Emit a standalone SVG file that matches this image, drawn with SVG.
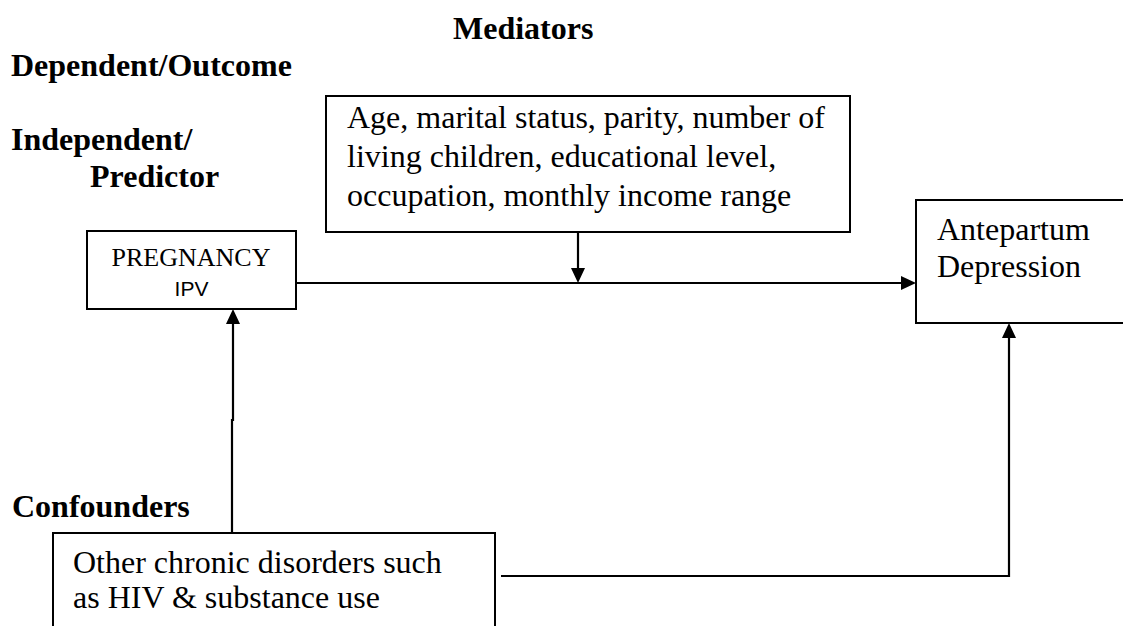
<svg xmlns="http://www.w3.org/2000/svg" width="1123" height="626" viewBox="0 0 1123 626">
<defs>
<style>
.lbl{font-family:"Liberation Serif","Times New Roman",serif;font-weight:bold;font-size:32px;fill:#000}
.txt{font-family:"Liberation Serif","Times New Roman",serif;font-size:32px;fill:#000}
.box{fill:#fff;stroke:#000;stroke-width:2}
.con{fill:none;stroke:#000;stroke-width:2.2}
</style>
<marker id="arr" viewBox="0 0 10 10" refX="10" refY="5" markerWidth="7" markerHeight="7" markerUnits="userSpaceOnUse" orient="auto">
<path d="M0,0 L10,5 L0,10 z" fill="#000"/>
</marker>
</defs>
<rect width="1123" height="626" fill="#fff"/>
<g id="labels">
<text class="lbl" x="453" y="39">Mediators</text>
<text class="lbl" x="11" y="76">Dependent/Outcome</text>
<text class="lbl" x="11" y="150">Independent/</text>
<text class="lbl" x="90" y="187">Predictor</text>
<text class="lbl" x="12" y="517">Confounders</text>
</g>
<g id="connectors">
<path class="con" d="M296,283 L902,283"/>
<path d="M916,283 L901,276 L901,290 z" fill="#000"/>
<path class="con" d="M578,232 L578,270"/>
<path d="M578,283 L571,268 L585,268 z" fill="#000"/>
<path class="con" d="M232,533 L232,420 L233,420 L233,324"/>
<path d="M233,309 L226,324 L240,324 z" fill="#000"/>
<path class="con" d="M501,576 L1009,576 L1009,338"/>
<path d="M1009,323 L1002,338 L1016,338 z" fill="#000"/>
</g>
<g id="mediators">
<rect class="box" x="326" y="96" width="524" height="136"/>
<text class="txt" x="347" y="128">Age, marital status, parity, number of</text>
<text class="txt" x="347" y="167">living children, educational level,</text>
<text class="txt" x="347" y="206">occupation, monthly income range</text>
</g>
<g id="pregnancy">
<rect class="box" x="87" y="231" width="209" height="78"/>
<text x="191" y="266" text-anchor="middle" font-family="Liberation Serif, Times New Roman, serif" font-size="26">PREGNANCY</text>
<text x="191.5" y="296" text-anchor="middle" font-family="Liberation Sans, Arial, sans-serif" font-size="21">IPV</text>
</g>
<g id="antepartum">
<rect class="box" x="916" y="200" width="220" height="123"/>
<text class="txt" x="937" y="240">Antepartum</text>
<text class="txt" x="937" y="277">Depression</text>
</g>
<g id="confounders">
<rect class="box" x="53" y="533" width="442" height="110"/>
<text class="txt" x="73" y="573">Other chronic disorders such</text>
<text class="txt" x="73" y="608">as HIV &amp; substance use</text>
</g>
</svg>
